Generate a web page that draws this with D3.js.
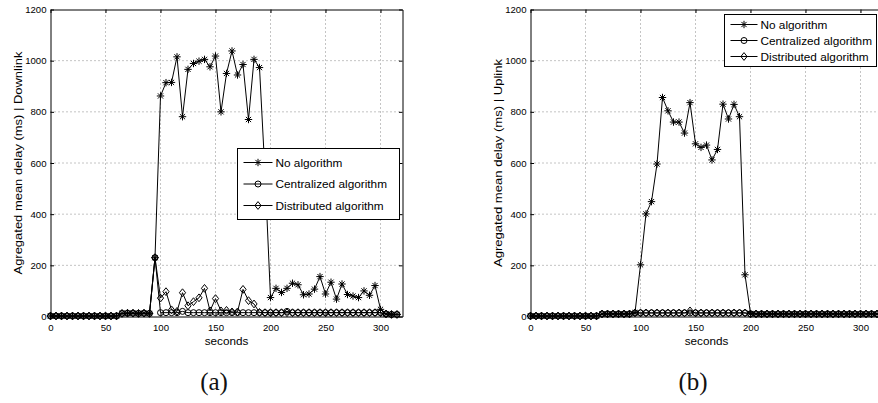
<!DOCTYPE html>
<html>
<head>
<meta charset="utf-8">
<script src="https://cdn.jsdelivr.net/npm/d3@7"></script>
<style>
  body { margin: 0; background: #fff; }
  svg { display: block; font-family: "Liberation Sans", Arial, sans-serif; }
</style>
</head>
<body>
<div id="chart"></div>
<script>
// time axis (s)
const seconds = [0,5,10,15,20,25,30,35,40,45,50,55,60,65,70,75,80,85,90,95,
  100,105,110,115,120,125,130,135,140,145,150,155,160,165,170,175,180,185,190,195,
  200,205,210,215,220,225,230,235,240,245,250,255,260,265,270,275,280,285,290,295,
  300,305,310,315];

const seriesNames = ['No algorithm', 'Centralized algorithm', 'Distributed algorithm'];
const xTicks = [0, 50, 100, 150, 200, 250, 300];
const yTicks = [0, 200, 400, 600, 800, 1000, 1200];

// (a) downlink
const downNoAlg = [2,2,2,2,2,2,2,2,2,2,2,2,2,12,13,13,12,13,12,230,
  862,914,915,1015,781,966,989,998,1005,976,1018,800,950,1038,944,985,770,1005,973,560,
  74,110,94,110,130,124,85,88,107,156,88,134,68,127,86,80,74,100,83,121,
  28,10,8,8];
const downCentral = [2,2,2,2,2,2,2,2,2,2,2,2,2,12,13,13,12,13,12,230,
  15,15,15,15,20,15,15,15,15,15,15,15,15,15,15,15,15,15,15,15,
  15,15,15,20,15,15,15,15,15,15,15,15,15,15,15,15,15,15,15,15,
  15,10,8,8];
const downDistrib = [2,2,2,2,2,2,2,2,2,2,2,2,2,12,13,13,12,13,12,230,
  72,97,26,20,93,42,58,73,110,22,70,22,24,18,18,106,62,49,16,15,
  15,15,15,15,15,15,15,15,15,15,15,15,15,15,15,15,15,15,15,15,
  15,10,8,8];

// (b) uplink
const upNoAlg = [2,2,2,2,2,2,2,2,2,2,2,2,2,10,10,10,10,10,10,15,
  202,401,449,596,856,804,760,760,717,836,675,661,670,612,653,830,772,829,781,163,
  12,10,10,10,10,10,10,10,10,10,10,10,10,10,10,10,10,10,10,10,
  10,10,10,10];
const upCentral = [2,2,2,2,2,2,2,2,2,2,2,2,2,10,10,10,10,10,10,14,
  14,14,14,14,14,14,14,14,14,14,14,14,14,14,14,14,14,14,14,14,
  10,10,10,10,10,10,10,10,10,10,10,10,10,10,10,10,10,10,10,10,
  10,10,10,10];
const upDistrib = [2,2,2,2,2,2,2,2,2,2,2,2,2,10,10,10,10,10,10,14,
  14,14,14,14,14,14,14,14,14,22,14,14,14,14,14,14,14,14,14,14,
  10,10,10,10,10,10,10,10,10,10,10,10,10,10,10,10,10,10,10,10,
  10,10,10,10];

const panels = [
  { left: 50.5, yLabel: 'Agregated mean delay (ms) | Downlink', labelLen: 223, caption: '(a)', capX: 214,
    series: [downNoAlg, downCentral, downDistrib], legend: { x: 237.5, y: 148.5, w: 162, h: 71, gap: 21.5, line: 29 } },
  { left: 530.5, yLabel: 'Agregated mean delay (ms) | Uplink', labelLen: 208, caption: '(b)', capX: 693,
    series: [upNoAlg, upCentral, upDistrib], legend: { x: 724.5, y: 14.5, w: 152, h: 52, gap: 16, line: 27 } }
];

const markers = ['star', 'circle', 'diamond'];

const svg = d3.select('#chart').append('svg')
  .attr('width', 878)
  .attr('height', 403);

function drawMarker(g, type) {
  if (type === 'circle') {
    g.append('circle').attr('r', 3);
  } else if (type === 'diamond') {
    g.append('path').attr('d', 'M0,-3.9L3.1,0L0,3.9L-3.1,0Z');
  } else {
    g.append('path').attr('d', 'M0,-3.7V3.7M-3.7,0H3.7M-2.6,-2.6L2.6,2.6M-2.6,2.6L2.6,-2.6');
  }
}

function drawPanel(p) {
  const x = d3.scaleLinear().domain([0, 320]).range([p.left, p.left + 352]);
  const y = d3.scaleLinear().domain([0, 1200]).range([316.5, 9.5]);
  const g = svg.append('g');

  //Grid
  g.append('g')
    .selectAll('line')
    .data(xTicks.filter(d => d > 0))
    .enter().append('line')
    .attr('x1', d => x(d)).attr('x2', d => x(d))
    .attr('y1', y(0)).attr('y2', y(1200))
    .attr('stroke', '#888').attr('stroke-dasharray', '1,3');
  g.append('g')
    .selectAll('line')
    .data(yTicks.filter(d => d > 0 && d < 1200))
    .enter().append('line')
    .attr('y1', d => y(d)).attr('y2', d => y(d))
    .attr('x1', x(0)).attr('x2', x(320))
    .attr('stroke', '#888').attr('stroke-dasharray', '1,3');

  //Axes
  const xAxis = g.append('g').attr('transform', `translate(0,${y(0)})`)
    .call(d3.axisBottom(x).tickValues(xTicks).tickSizeInner(-3.5).tickSizeOuter(0).tickPadding(7).tickFormat(d3.format('d')));
  const xTop = g.append('g').attr('transform', `translate(0,${y(1200)})`)
    .call(d3.axisTop(x).tickValues(xTicks).tickSizeInner(-3.5).tickSizeOuter(0).tickFormat(''));
  const yAxis = g.append('g').attr('transform', `translate(${x(0)},0)`)
    .call(d3.axisLeft(y).tickValues(yTicks).tickSizeInner(-3.5).tickSizeOuter(0).tickPadding(4).tickFormat(d3.format('d')));
  const yRight = g.append('g').attr('transform', `translate(${x(320)},0)`)
    .call(d3.axisRight(y).tickValues(yTicks).tickSizeInner(-3.5).tickSizeOuter(0).tickFormat(''));
  [xAxis, xTop, yAxis, yRight].forEach(a => {
    a.select('.domain').attr('stroke', '#000');
    a.selectAll('.tick line').attr('stroke', '#000');
    a.selectAll('text').attr('fill', '#000').style('font-size', '9.6px').style('font-family', '"Liberation Sans", Arial, sans-serif');
  });
  xAxis.selectAll('text').attr('dy', '0.75em');

  //Axis titles
  g.append('text')
    .attr('x', x(160)).attr('y', 345)
    .attr('text-anchor', 'middle')
    .attr('fill', '#000')
    .style('font-size', '11.7px')
    .text('seconds');
  g.append('text')
    .attr('transform', `translate(${p.left - 29},163) rotate(-90)`)
    .attr('text-anchor', 'middle')
    .attr('fill', '#000')
    .attr('textLength', p.labelLen)
    .attr('lengthAdjust', 'spacingAndGlyphs')
    .style('font-size', '11.7px')
    .text(p.yLabel);
  g.append('text')
    .attr('x', p.capX).attr('y', 390)
    .attr('text-anchor', 'middle')
    .attr('fill', '#111')
    .style('font-family', '"Liberation Serif", serif')
    .style('font-size', '25px')
    .text(p.caption);

  //Series
  p.series.forEach(function (vals, i) {
    const pts = seconds.map((s, k) => [s, vals[k]]);
    g.append('path')
      .datum(pts)
      .attr('fill', 'none')
      .attr('stroke', '#000')
      .attr('stroke-width', 1)
      .attr('d', d3.line().x(d => x(d[0])).y(d => y(d[1])));
    g.append('g')
      .attr('fill', 'none').attr('stroke', '#000').attr('stroke-width', 1)
      .selectAll('g')
      .data(pts)
      .enter().append('g')
      .attr('transform', d => `translate(${x(d[0])},${y(d[1])})`)
      .each(function () { drawMarker(d3.select(this), markers[i]); });
  });

  //Legend
  const L = p.legend;
  const leg = g.append('g');
  leg.append('rect')
    .attr('x', L.x).attr('y', L.y).attr('width', L.w).attr('height', L.h)
    .attr('fill', '#fff').attr('stroke', '#000');
  const item = leg.selectAll('g.item')
    .data(seriesNames)
    .enter().append('g')
    .attr('transform', (d, i) => `translate(${L.x + 6},${L.y + (L.h - 2 * L.gap) / 2 + i * L.gap})`);
  item.append('line')
    .attr('x1', 0).attr('x2', L.line)
    .attr('stroke', '#000');
  item.append('g')
    .attr('transform', `translate(${L.line / 2},0)`)
    .attr('fill', 'none').attr('stroke', '#000').attr('stroke-width', 1)
    .each(function (d, i) { drawMarker(d3.select(this), markers[i]); });
  item.append('text')
    .attr('x', L.line + 3).attr('dy', '0.35em')
    .attr('fill', '#000')
    .style('font-size', '11.8px')
    .text(d => d);
}

panels.forEach(drawPanel);
</script>
</body>
</html>
